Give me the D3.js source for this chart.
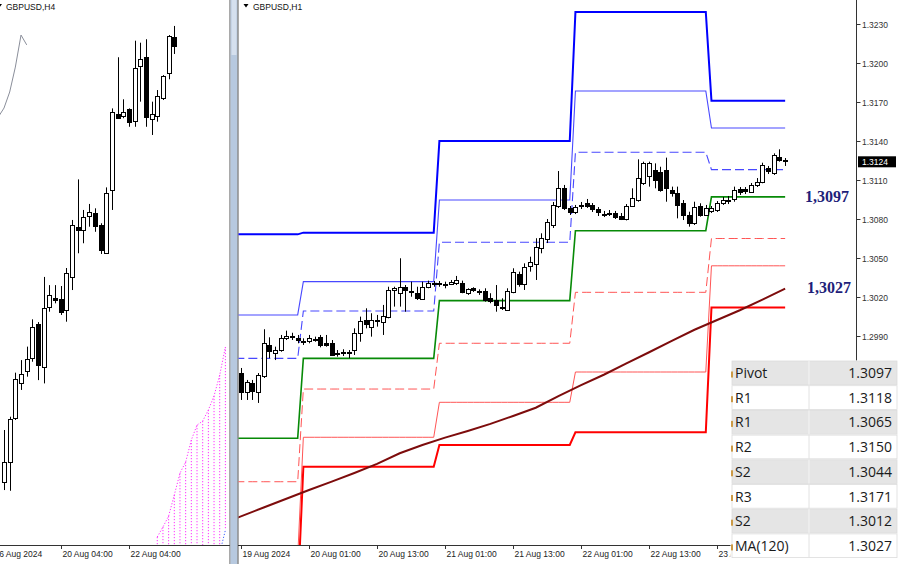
<!DOCTYPE html>
<html><head><meta charset="utf-8">
<script src="https://cdn.jsdelivr.net/npm/d3@7"></script>
<style>body{margin:0;background:#fff;}svg{display:block;}</style>
</head><body>
<svg id="c" width="900" height="564"></svg>
<script>
// ---------- DATA ----------
// H1 candles (GBPUSD,H1), bar 0 = 19 Aug 13:00
const h1Open = [1.29618,1.29472,1.29541,1.29472,1.29587,1.29831,1.29767,1.29792,1.29887,1.29892,
1.29882,1.29859,1.29856,1.29874,1.29890,1.29849,1.29844,1.29769,1.29774,1.29774,
1.29792,1.29925,1.30023,1.29967,1.30021,1.30010,1.30049,1.30249,1.30229,1.30275,
1.30243,1.30233,1.30190,1.30279,1.30308,1.30303,1.30300,1.30305,1.30310,1.30310,
1.30229,1.30267,1.30243,1.30249,1.30190,1.30177,1.30123,1.30100,1.30241,1.30377,
1.30305,1.30439,1.30459,1.30575,1.30646,1.30754,1.30900,1.31038,1.30885,1.30854,
1.30906,1.30925,1.30908,1.30875,1.30838,1.30846,1.30844,1.30825,1.30798,1.30900,
1.30946,1.31075,1.31125,1.31177,1.31164,1.31177,1.31023,1.30998,1.30925,1.30831,
1.30767,1.30900,1.30831,1.30856,1.30864,1.30921,1.30944,1.30952,1.31028,1.31028,
1.31010,1.31062,1.31087,1.31190,1.31152,1.31279,1.31250];
const h1High = [1.29654,1.29562,1.29562,1.29615,1.29952,1.29890,1.29818,1.29908,1.29941,1.29925,
1.29908,1.29882,1.29908,1.29895,1.29908,1.29908,1.29869,1.29792,1.29798,1.29792,
1.29959,1.30049,1.30113,1.30075,1.30062,1.30139,1.30279,1.30279,1.30498,1.30292,
1.30318,1.30279,1.30318,1.30326,1.30323,1.30323,1.30318,1.30331,1.30362,1.30326,
1.30267,1.30275,1.30259,1.30267,1.30229,1.30292,1.30190,1.30267,1.30421,1.30395,
1.30459,1.30510,1.30652,1.30690,1.30800,1.30931,1.31169,1.31062,1.30900,1.30908,
1.30931,1.30954,1.30923,1.30892,1.30862,1.30869,1.30862,1.30846,1.30915,1.31036,
1.31259,1.31241,1.31241,1.31228,1.31202,1.31272,1.31049,1.31049,1.30946,1.30856,
1.30933,1.30921,1.30908,1.30900,1.30938,1.30969,1.30977,1.31049,1.31046,1.31046,
1.31077,1.31115,1.31233,1.31208,1.31305,1.31336,1.31269];
const h1Low = [1.29408,1.29408,1.29408,1.29385,1.29577,1.29729,1.29715,1.29779,1.29869,1.29869,
1.29844,1.29831,1.29844,1.29856,1.29813,1.29818,1.29746,1.29741,1.29746,1.29729,
1.29754,1.29856,1.29959,1.29895,1.29972,1.29908,1.30036,1.30126,1.30126,1.30087,
1.30202,1.30177,1.30177,1.30267,1.30279,1.30279,1.30267,1.30292,1.30292,1.30229,
1.30216,1.30239,1.30216,1.30164,1.30152,1.30087,1.30100,1.30095,1.30229,1.30279,
1.30254,1.30395,1.30331,1.30536,1.30615,1.30731,1.30885,1.30869,1.30831,1.30838,
1.30877,1.30885,1.30854,1.30823,1.30815,1.30823,1.30800,1.30792,1.30789,1.30895,
1.30933,1.31062,1.31049,1.31036,1.31010,1.30933,1.30972,1.30805,1.30792,1.30741,
1.30754,1.30818,1.30823,1.30846,1.30854,1.30908,1.30915,1.30933,1.30985,1.30992,
1.31000,1.31046,1.31075,1.31146,1.31139,1.31241,1.31208];
const h1Close = [1.29472,1.29549,1.29479,1.29600,1.29844,1.29787,1.29792,1.29882,1.29900,1.29897,
1.29864,1.29854,1.29882,1.29879,1.29831,1.29831,1.29754,1.29765,1.29769,1.29769,
1.29921,1.30016,1.29992,1.30023,1.30026,1.30054,1.30254,1.30267,1.30279,1.30254,
1.30239,1.30198,1.30279,1.30310,1.30303,1.30308,1.30296,1.30318,1.30331,1.30241,
1.30259,1.30249,1.30239,1.30177,1.30169,1.30139,1.30119,1.30249,1.30395,1.30300,
1.30433,1.30472,1.30587,1.30652,1.30777,1.30908,1.31038,1.30885,1.30854,1.30890,
1.30910,1.30900,1.30875,1.30849,1.30834,1.30842,1.30813,1.30805,1.30900,1.30959,
1.31113,1.31228,1.31228,1.31100,1.31023,1.31036,1.30998,1.30908,1.30831,1.30767,
1.30890,1.30831,1.30882,1.30882,1.30921,1.30946,1.30949,1.31023,1.31002,1.31010,
1.31062,1.31087,1.31215,1.31164,1.31292,1.31254,1.31239];

// daily levels: 19, 20, 21, 22, 23 Aug (first bar of each new day)
const dayStart = [11, 35, 59, 83];
const R3 = [1.30682, 1.30695, 1.31400, 1.32392, 1.31710];
const R2 = [1.30062, 1.30318, 1.30946, 1.31785, 1.31500];
const R1 = [1.29728, 1.30092, 1.30621, 1.31313, 1.31180];
const PP = [1.29113, 1.29728, 1.30172, 1.30710, 1.30970];
const S1 = [1.28779, 1.29492, 1.29844, 1.30236, 1.30650];
const S2 = [1.28200, 1.29121, 1.29390, 1.29623, 1.30440];
const S3 = [1.27900, 1.28895, 1.29062, 1.29159, 1.30120];

// MA(120) read every 4 bars
const maBars = [-1,4,8,12,16,20,24,28,32,36,40,44,48,52,56,60,64,68,72,76,80,84,88,92,96];
const maVals = [1.28496,1.28581,1.28648,1.28715,1.28780,1.28846,1.28916,1.28998,1.29061,1.29118,
1.29169,1.29224,1.29285,1.29348,1.29438,1.29522,1.29602,1.29689,1.29775,1.29863,
1.29948,1.30023,1.30098,1.30180,1.30265];

const h1TickBars = [0,12,24,36,48,60,72,84];
const h1TickLabels = ["19 Aug 2024","20 Aug 01:00","20 Aug 13:00","21 Aug 01:00","21 Aug 13:00","22 Aug 01:00","22 Aug 13:00","23 Aug 01:00"];
const priceTicks = [1.3230,1.3200,1.3170,1.3140,1.3110,1.3080,1.3050,1.3020,1.2990];
const lastPrice = 1.3124;

// H4 candles (GBPUSD,H4), bar 10 = 20 Aug 04:00
const h4Open = [1.28850,1.28954,1.29198,1.29390,1.29454,1.29528,1.29715,1.29478,1.29811,1.29857,1.29852,1.29789,1.29976,1.30251,1.30233,1.30306,1.30324,1.30260,1.30110,1.30449,1.30870,1.30859,1.30896,1.30828,1.31130,1.31182,1.30841,1.30859,1.30956,1.31094,1.31292];
const h4High = [1.29134,1.29207,1.29449,1.29518,1.29592,1.29742,1.29727,1.29975,1.29930,1.29930,1.29925,1.30024,1.30288,1.30511,1.30343,1.30376,1.30352,1.30270,1.30467,1.30901,1.31182,1.30951,1.30901,1.31273,1.31262,1.31281,1.30938,1.31002,1.31084,1.31304,1.31354];
const h4Low = [1.28804,1.28800,1.29189,1.29354,1.29427,1.29509,1.29408,1.29390,1.29784,1.29830,1.29766,1.29729,1.29903,1.30105,1.30160,1.30251,1.30223,1.30101,1.30105,1.30343,1.30843,1.30847,1.30800,1.30800,1.30938,1.30800,1.30755,1.30828,1.30947,1.31061,1.31200];
const h4Close = [1.28960,1.29193,1.29412,1.29440,1.29522,1.29701,1.29491,1.29803,1.29876,1.29844,1.29778,1.29995,1.30260,1.30237,1.30302,1.30330,1.30251,1.30123,1.30438,1.30879,1.30847,1.30883,1.30822,1.31121,1.31171,1.30852,1.30870,1.30971,1.31079,1.31300,1.31240];
const chikouBars = [-1,0,1,2,3,4];
const chikouVals = [1.30854,1.30903,1.30991,1.31128,1.31304,1.31250];
const cloudBars = [27,28,29,30,31,32,33,34,35,36,37,38,39];
const spanA = [1.28546,1.28601,1.28661,1.28777,1.28897,1.28958,1.29079,1.29161,1.29183,1.29244,1.29321,1.29436,1.29590];
const spanB = [1.27900,1.27900,1.27900,1.27900,1.27900,1.27900,1.27900,1.27900,1.27900,1.27900,1.27900,1.28458,1.28584];
const h4TickBars = [-2,10,22];
const h4TickLabels = ["16 Aug 2024","20 Aug 04:00","22 Aug 04:00"];

// table
const tblLabels = ["Pivot","R1","R1","R2","S2","R3","S2","MA(120)"];
const tblValues = ["1.3097","1.3118","1.3065","1.3150","1.3044","1.3171","1.3012","1.3027"];
const calloutVals = ["1,3097","1,3027"];
const calloutPrices = [1.3097, 1.3027];

// ---------- DRAW ----------
const svg = d3.select("#c");
const axisFont = "Liberation Sans, Arial, sans-serif";
svg.append("rect").attr("width",900).attr("height",564).attr("fill","#fff");
const defs = svg.append("defs");
defs.append("clipPath").attr("id","clipL").append("rect").attr("x",0).attr("y",0).attr("width",229.5).attr("height",545);
defs.append("clipPath").attr("id","clipR").append("rect").attr("x",238.5).attr("y",0).attr("width",618).attr("height",545);
defs.append("clipPath").attr("id","clipT").append("rect").attr("x",238.5).attr("y",540).attr("width",492).attr("height",24);

function drawCandles(g, xs, ys, O, Hh, Lw, C) {
  const idx = d3.range(O.length);
  g.selectAll(null).data(idx).join("line")
    .attr("x1", i => Math.round(xs(i)) + 0.5).attr("x2", i => Math.round(xs(i)) + 0.5)
    .attr("y1", i => ys(Hh[i])).attr("y2", i => ys(Lw[i]))
    .attr("stroke", "#000").attr("stroke-width", 1);
  g.selectAll(null).data(idx).join("rect")
    .attr("x", i => Math.round(xs(i)) - 1.5)
    .attr("width", 4)
    .attr("y", i => Math.round(Math.min(ys(O[i]), ys(C[i]))) + 0.5)
    .attr("height", i => Math.max(1, Math.round(Math.abs(ys(O[i]) - ys(C[i])))))
    .attr("fill", i => C[i] < O[i] ? "#000" : "#fff")
    .attr("stroke", "#000").attr("stroke-width", 1);
}

// ===== LEFT PANEL (H4) =====
const xL = d3.scaleLinear().domain([0, 30]).range([4, 174.3]);
const yL = d3.scaleLinear().domain([1.3124, 1.2904]).range([46.7, 447.1]);
const gL = svg.append("g").attr("clip-path","url(#clipL)");
cloudBars.forEach((b, i) => {
  gL.append("line").attr("x1", xL(b)).attr("x2", xL(b))
    .attr("y1", yL(spanA[i])).attr("y2", yL(spanB[i]))
    .attr("stroke", "#ff33ff").attr("stroke-width", 1).attr("stroke-dasharray","1.2,1.8");
});
const lineL = d3.line().x(d => xL(d[0])).y(d => yL(d[1]));
gL.append("path").attr("d", lineL(cloudBars.map((b,i)=>[b, spanA[i]])))
  .attr("fill","none").attr("stroke","#ff33ff").attr("stroke-width",1).attr("stroke-dasharray","1.2,1.8");
gL.append("path").attr("d", lineL(cloudBars.map((b,i)=>[b, spanB[i]])))
  .attr("fill","none").attr("stroke","#4060ff").attr("stroke-width",1).attr("stroke-dasharray","1.2,1.8");
gL.append("path").attr("d", lineL(chikouBars.map((b,i)=>[b, chikouVals[i]])))
  .attr("fill","none").attr("stroke","#8a8e9a").attr("stroke-width",1);
drawCandles(gL, xL, yL, h4Open, h4High, h4Low, h4Close);
svg.append("path").attr("d","M-3,4 L2,4 L-0.5,7.5 Z").attr("fill","#000");
svg.append("text").attr("x",6).attr("y",9.5).text("GBPUSD,H4")
  .attr("font-family",axisFont).attr("font-size",8.5).attr("fill","#111");
svg.append("line").attr("x1",0).attr("x2",230).attr("y1",545.5).attr("y2",545.5).attr("stroke","#333");
h4TickBars.forEach((b,i) => {
  const x = Math.round(xL(b)) + 0.5;
  svg.append("line").attr("x1",x).attr("x2",x).attr("y1",545).attr("y2",549).attr("stroke","#333");
  svg.append("text").attr("x", x + 1).attr("y", 557).text(h4TickLabels[i])
    .attr("font-family",axisFont).attr("font-size",8.5).attr("fill","#222");
});

// separator
svg.append("rect").attr("x",229.5).attr("y",0).attr("width",1).attr("height",564).attr("fill","#555");
svg.append("rect").attr("x",230.5).attr("y",0).attr("width",7).attr("height",564).attr("fill","#b7c9df");
svg.append("rect").attr("x",231.5).attr("y",0).attr("width",5).attr("height",55).attr("fill","#d5e0ee");
svg.append("rect").attr("x",237.5).attr("y",0).attr("width",1).attr("height",564).attr("fill","#555");

// ===== RIGHT PANEL (H1) =====
const xR = d3.scaleLinear().domain([-0.53, 108.5]).range([238, 856]);
const yR = d3.scaleLinear().domain([1.2990, 1.3230]).range([336, 24]);
const gR = svg.append("g").attr("clip-path","url(#clipR)");
function dayOf(h){ let d = 0; dayStart.forEach(s => { if (h >= s) d++; }); return d; }
const bars = d3.range(-1, h1Open.length);
const lineR = d3.line().x(d => xR(d[0])).y(d => yR(d[1]));
const levelDefs = [
  {v:S3, c:"#ff0000", w:2, dash:null},
  {v:S2, c:"#ff5555", w:1, dash:null},
  {v:S1, c:"#ff5555", w:1, dash:"9,4"},
  {v:R3, c:"#0000ff", w:2, dash:null},
  {v:R2, c:"#4848ff", w:1.1, dash:null},
  {v:R1, c:"#4848ff", w:1.1, dash:"9,4"},
  {v:PP, c:"#078a07", w:1.6, dash:null}
];
levelDefs.forEach(L => {
  gR.append("path").attr("d", lineR(bars.map(h => [h, L.v[dayOf(h)]])))
    .attr("fill","none").attr("stroke",L.c).attr("stroke-width",L.w)
    .attr("stroke-dasharray", L.dash);
});
gR.append("path").attr("d", lineR(maBars.map((b,i)=>[b, maVals[i]])))
  .attr("fill","none").attr("stroke","#7d0c0c").attr("stroke-width",2);
drawCandles(gR, xR, yR, h1Open, h1High, h1Low, h1Close);

svg.append("path").attr("d","M243.5,4 L248.5,4 L246,7.5 Z").attr("fill","#000");
svg.append("text").attr("x",253).attr("y",9.5).text("GBPUSD,H1")
  .attr("font-family",axisFont).attr("font-size",8.5).attr("fill","#111");

calloutVals.forEach((t,i) => {
  svg.append("text").attr("x", 805 + i*2).attr("y", yR(calloutPrices[i]) + 5.5).text(t)
    .attr("font-family","Liberation Serif, Times New Roman, serif").attr("font-weight","bold")
    .attr("font-size",16).attr("fill","#1f1f7a");
});

svg.append("line").attr("x1",856.5).attr("x2",856.5).attr("y1",0).attr("y2",545).attr("stroke","#333");
priceTicks.forEach(p => {
  const y = Math.round(yR(p)) + 0.5;
  svg.append("line").attr("x1",856.5).attr("x2",860.5).attr("y1",y).attr("y2",y).attr("stroke","#333");
  svg.append("text").attr("x",862).attr("y",y+3).text(p.toFixed(4))
    .attr("font-family",axisFont).attr("font-size",8.5).attr("fill","#333");
});
const yP = yR(lastPrice);
svg.append("rect").attr("x",858).attr("y",yP-5.5).attr("width",38).attr("height",11).attr("fill","#000");
svg.append("text").attr("x",862).attr("y",yP+3).text(lastPrice.toFixed(4))
  .attr("font-family",axisFont).attr("font-size",8.5).attr("fill","#fff");

svg.append("line").attr("x1",238).attr("x2",857).attr("y1",545.5).attr("y2",545.5).attr("stroke","#333");
const gT = svg.append("g").attr("clip-path","url(#clipT)");
h1TickBars.forEach((b,i) => {
  const x = Math.round(xR(b)) + 0.5;
  gT.append("line").attr("x1",x).attr("x2",x).attr("y1",545).attr("y2",549).attr("stroke","#333");
  gT.append("text").attr("x", x + 1).attr("y", 557).text(h1TickLabels[i])
    .attr("font-family",axisFont).attr("font-size",8.5).attr("fill","#222");
});

// ===== TABLE =====
const tbl = svg.append("g");
const rowH = 24.7, top0 = 360.5;
tbl.append("rect").attr("x",730.5).attr("y",top0).attr("width",169.5).attr("height",203.5).attr("fill","#fff");
tblLabels.forEach((lab, i) => {
  const y = top0 + i*rowH;
  tbl.append("rect").attr("x",732).attr("y",y+0.5).attr("width",165).attr("height",rowH-1)
    .attr("fill", i % 2 === 0 ? "#e5e5e5" : "#ffffff").attr("stroke","#dcdcdc").attr("stroke-width",0.8);
  tbl.append("line").attr("x1",809).attr("x2",809).attr("y1",y+0.5).attr("y2",y+rowH-0.5)
    .attr("stroke", i % 2 === 0 ? "#f4f4f4" : "#e2e2e2");
  tbl.append("rect").attr("x",731).attr("y",y+11).attr("width",2).attr("height",6).attr("fill","#cc9a45");
  tbl.append("text").attr("x",735).attr("y",y+17.5).text(lab)
    .attr("font-family","Open Sans, Noto Sans, sans-serif").attr("font-size",14).attr("fill","#1a1a1a");
  tbl.append("text").attr("x",892).attr("y",y+17.5).attr("text-anchor","end").text(tblValues[i])
    .attr("font-family","Open Sans, Noto Sans, sans-serif").attr("font-size",14).attr("fill","#1a1a1a");
});
</script>
</body></html>
